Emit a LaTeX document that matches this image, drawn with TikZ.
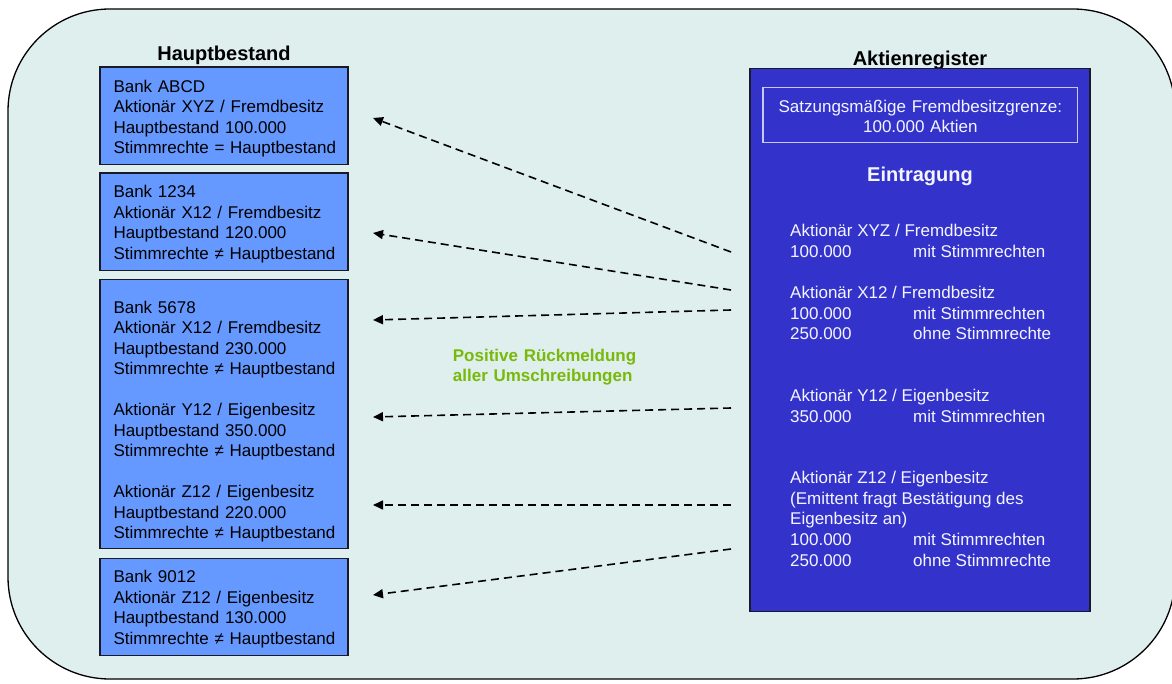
\documentclass[tikz,border=0pt]{standalone}
\usepackage{fontspec}
\setmainfont{Liberation Sans}
\usetikzlibrary{arrows.meta}
\definecolor{bgc}{RGB}{223,239,237}
\definecolor{lblue}{RGB}{102,153,255}
\definecolor{dblue}{RGB}{51,51,204}
\definecolor{boxline}{RGB}{25,25,40}
\definecolor{inl}{RGB}{200,200,245}
\definecolor{rtext}{RGB}{245,245,255}
\definecolor{grn}{RGB}{120,185,10}
\newcommand\tline[1]{\mbox{#1}}
\begin{document}
\begin{tikzpicture}[x=1pt,y=-1pt,
  lbox/.style={draw=boxline, line width=1.3pt, fill=lblue, anchor=north west, outer sep=0pt,
    inner xsep=13.5pt, inner ysep=0pt, text width=221pt, align=left,
    font=\fontsize{17}{20.5}\selectfont},
  rline/.style={anchor=base west, inner sep=0pt, text=rtext, font=\fontsize{17}{20.5}\selectfont},
  conn/.style={line width=1.6pt, dash pattern=on 8pt off 5pt, -{Triangle[length=10pt,width=9pt]}},
  ttl/.style={anchor=base, inner sep=0pt, font=\bfseries\fontsize{20}{24}\selectfont}]
\useasboundingbox (0,0) rectangle (1172,684);
\draw[fill=bgc, line width=1.3pt, rounded corners=102pt] (8,9) rectangle (1175,679);

% left column
\node[ttl] (t1) at (224,61) {Hauptbestand};
\node[lbox, text height=25.5pt, text depth=71.8pt] (b1) at (100,67)
  {\tline{Bank ABCD}\\\tline{Aktionär XYZ / Fremdbesitz}\\\tline{Hauptbestand 100.000}\\\tline{Stimmrechte = Hauptbestand}};
\node[lbox, text height=24.7pt, text depth=72.6pt] (b2) at (100,173)
  {\tline{Bank 1234}\\\tline{Aktionär X12 / Fremdbesitz}\\\tline{Hauptbestand 120.000}\\\tline{Stimmrechte ≠ Hauptbestand}};
\node[lbox, text height=34pt, text depth=235.5pt] (b3) at (100,279.3)
  {\tline{Bank 5678}\\\tline{Aktionär X12 / Fremdbesitz}\\\tline{Hauptbestand 230.000}\\\tline{Stimmrechte ≠ Hauptbestand}\\[20.5pt]\tline{Aktionär Y12 / Eigenbesitz}\\\tline{Hauptbestand 350.000}\\\tline{Stimmrechte ≠ Hauptbestand}\\[20.5pt]\tline{Aktionär Z12 / Eigenbesitz}\\\tline{Hauptbestand 220.000}\\\tline{Stimmrechte ≠ Hauptbestand}};
\node[lbox, text height=24pt, text depth=72.9pt] (b4) at (100,558.7)
  {\tline{Bank 9012}\\\tline{Aktionär Z12 / Eigenbesitz}\\\tline{Hauptbestand 130.000}\\\tline{Stimmrechte ≠ Hauptbestand}};

% right column
\node[ttl] (t2) at (920,66) {Aktienregister};
\node[draw=boxline, line width=1.3pt, fill=dblue, anchor=north west, minimum width=340pt,
  minimum height=543.4pt, inner sep=0pt, outer sep=0pt] (rb) at (750,68.3) {};
\node[draw=inl, line width=1.3pt, anchor=north west, inner sep=0pt, outer sep=0pt,
  text width=314.6pt, align=center, text=rtext, font=\fontsize{17}{20}\selectfont,
  text height=24.6pt, text depth=30.4pt] (grenze) at (763,87.7)
  {Satzungsmäßige Fremdbesitzgrenze:\\100.000 Aktien};
\node[ttl, text=rtext] (ein) at (920,181.7) {Eintragung};

\node[rline] (r1) at (790,236.7) {Aktionär XYZ / Fremdbesitz};
\node[rline] (r2) at (790,257.3) {\makebox[123pt][l]{100.000}mit Stimmrechten};
\node[rline] (r3) at (790,298.3) {Aktionär X12 / Fremdbesitz};
\node[rline] (r4) at (790,319.3) {\makebox[123pt][l]{100.000}mit Stimmrechten};
\node[rline] (r5) at (790,339.6) {\makebox[123pt][l]{250.000}ohne Stimmrechte};
\node[rline] (r6) at (790,401.7) {Aktionär Y12 / Eigenbesitz};
\node[rline] (r7) at (790,422.7) {\makebox[123pt][l]{350.000}mit Stimmrechten};
\node[rline] (r8) at (790,483.3) {Aktionär Z12 / Eigenbesitz};
\node[rline] (r9) at (790,504.3) {(Emittent fragt Bestätigung des};
\node[rline] (r10) at (790,524.6) {Eigenbesitz an)};
\node[rline] (r11) at (790,545.2) {\makebox[123pt][l]{100.000}mit Stimmrechten};
\node[rline] (r12) at (790,566) {\makebox[123pt][l]{250.000}ohne Stimmrechte};

% label
\node[anchor=north west, inner sep=0pt, text width=220pt, align=left, text=grn,
  font=\bfseries\fontsize{17}{20}\selectfont, text height=14pt, text depth=25pt] (pr) at (452.7,347)
  {Positive Rückmeldung\\aller Umschreibungen};

% connectors
\coordinate (s1) at (731,252);   \coordinate (e1) at (373,118);
\coordinate (s2) at (731,290);   \coordinate (e2) at (373,233);
\coordinate (s3) at (731,310);   \coordinate (e3) at (373,320);
\coordinate (s4) at (731,408);   \coordinate (e4) at (373,417);
\coordinate (s5) at (731,505);   \coordinate (e5) at (373,505);
\coordinate (s6) at (731,549);   \coordinate (e6) at (373,595);
\draw[conn] (s1) -- (e1);
\draw[conn] (s2) -- (e2);
\draw[conn] (s3) -- (e3);
\draw[conn] (s4) -- (e4);
\draw[conn] (s5) -- (e5);
\draw[conn] (s6) -- (e6);
\end{tikzpicture}
\end{document}
